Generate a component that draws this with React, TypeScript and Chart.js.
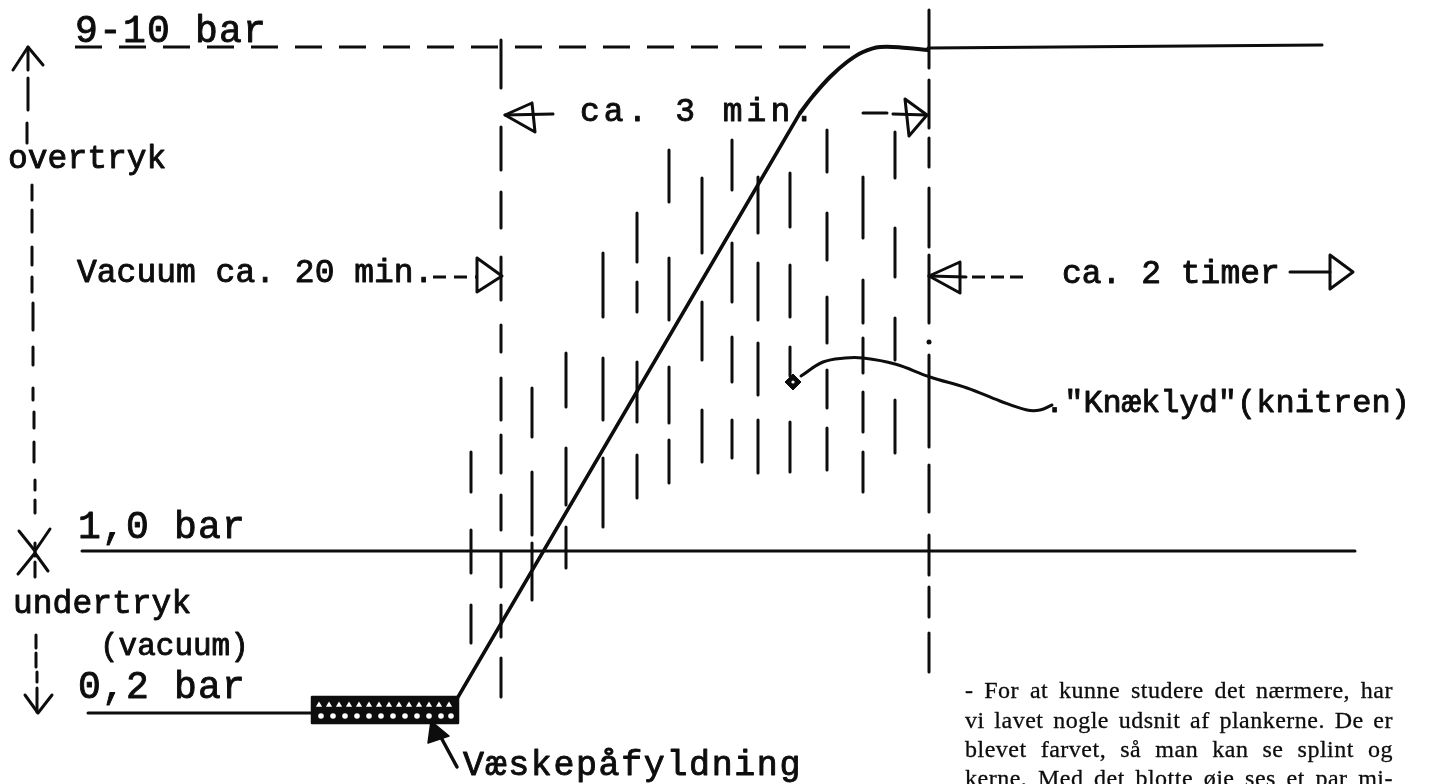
import { useEffect, useRef } from "react";
import { Chart, registerables } from "chart.js";

Chart.register(...registerables);

type P = [number, number];
type VDash = [number, number, number]; // x, y-start, y-end

// ---------- values (sheet units: x = time axis, y = height on sheet from top) ----------
const LEVEL_NAMES = ["9-10 bar", "1,0 bar", "0,2 bar"];
const HIGH_DASHED: P[] = [[75, 47], [860, 47]];
const ATM_LINE: P[] = [[82, 551], [1355, 551]];
const VACUUM_LINE: P[] = [[88, 713], [312, 713]];
const FILL_BOX: P[] = [[312, 697], [458, 697], [458, 723], [312, 723], [312, 697]];
const FILL_HOLES_TOP_X = [319, 329, 339, 349, 359, 369, 379, 389, 399, 409, 419, 429, 439, 449];
const FILL_HOLES_BOTTOM_X = [321, 333, 345, 357, 369, 381, 393, 405, 417, 429, 441, 451];
const RISE_LINE: P[] = [[458, 697], [800, 113]];
const TOP_CURVE: P[] = [[800, 113], [813, 96], [830, 77], [847, 62], [863, 52], [880, 47], [907, 48], [928, 50]];
const HOLD_LINE: P[] = [[928, 48], [1322, 45]];

const VAC_END_X = 501;
const VAC_END_DASHES: P[] = [[40, 88], [127, 170], [192, 228], [257, 300], [325, 352], [378, 420], [435, 473], [495, 530], [552, 587], [605, 637], [658, 697]];
const FILL_END_X = 929;
const FILL_END_DASHES: P[] = [[10, 68], [80, 128], [138, 167], [188, 247], [255, 323], [355, 447], [465, 512], [535, 575], [587, 617], [633, 672]];
const FILL_END_DOT: P = [929, 342];

const CRACKLE_COLUMNS: [number, P[]][] = [
  [471, [[452, 492], [530, 573], [605, 643]]],
  [532, [[388, 437], [472, 535], [543, 600]]],
  [566, [[353, 407], [448, 505], [527, 568]]],
  [603, [[253, 317], [358, 420], [458, 527]]],
  [637, [[213, 262], [282, 312], [362, 422], [455, 498]]],
  [669, [[150, 202], [258, 320], [367, 423], [440, 483]]],
  [702, [[178, 253], [302, 360], [410, 462]]],
  [732, [[140, 190], [243, 302], [337, 382], [420, 458]]],
  [758, [[177, 233], [263, 320], [343, 395], [420, 473]]],
  [790, [[173, 227], [265, 317], [347, 376], [422, 472]]],
  [827, [[130, 172], [213, 260], [297, 343], [370, 408], [428, 470]]],
  [863, [[177, 238], [280, 323], [338, 373], [392, 432], [452, 492]]],
  [895, [[132, 178], [228, 277], [318, 360], [400, 453]]],
];

const AXIS_DASHES: VDash[] = [
  [28, 47, 70], [28, 78, 110], [27, 123, 143],
  [32, 185, 200], [32, 210, 232], [32, 247, 265], [32, 277, 292], [33, 303, 330], [33, 347, 365],
  [33, 388, 400], [34, 412, 428], [34, 442, 462], [35, 480, 490], [35, 500, 513],
  [35, 543, 556], [35, 562, 577],
  [36, 635, 648], [36, 653, 667], [37, 672, 682], [37, 688, 712],
];
const UP_HEAD: P[] = [[13, 70], [28, 47], [43, 65]];
const DOWN_HEAD: P[] = [[25, 695], [38, 713], [52, 695]];
const X_UPPER: P[] = [[19, 531], [35, 551], [50, 529]];
const X_LOWER: P[] = [[18, 574], [35, 553], [48, 571]];

const VAC_ARROW_DASH: P[] = [[433, 277], [478, 277]];
const VAC_ARROW_HEAD: P[] = [[477, 258], [502, 276], [477, 292], [477, 258]];
const MIN3_LEFT_HEAD: P[] = [[532, 103], [505, 115], [535, 132], [532, 103]];
const MIN3_LEFT_STEM: P[] = [[505, 115], [553, 114]];
const MIN3_RIGHT_DASH: P[] = [[863, 113], [887, 113]];
const MIN3_RIGHT_HEAD: P[] = [[905, 99], [927, 115], [909, 136], [905, 99]];
const MIN3_RIGHT_STEM: P[] = [[893, 114], [927, 115]];
const HOURS_LEFT_HEAD: P[] = [[960, 262], [929, 276], [960, 293], [960, 262]];
const HOURS_LEFT_STEM: P[] = [[929, 276], [966, 277]];
const HOURS_LEFT_DASH: P[] = [[972, 277], [1028, 277]];
const HOURS_RIGHT_STEM: P[] = [[1290, 272], [1330, 272]];
const HOURS_RIGHT_HEAD: P[] = [[1330, 255], [1353, 272], [1330, 289], [1330, 255]];

const CRACKLE_LEADER: P[] = [[801, 376], [823, 362], [845, 358], [863, 358], [895, 364], [930, 377], [967, 388], [1000, 401], [1027, 410], [1040, 410], [1052, 405]];
const CRACKLE_MARK: P = [793, 382];
const FILL_LEADER: P[] = [[457, 767], [437, 730]];
const FILL_LEADER_HEAD: P[] = [[431, 721], [428, 743], [449, 736], [431, 721]];

const TEXTS = [
  LEVEL_NAMES[0], "overtryk", "Vacuum ca. 20 min.", "ca. 3 min.", "ca. 2 timer",
  '."Knæklyd"(knitren)', LEVEL_NAMES[1], "undertryk", "(vacuum)", LEVEL_NAMES[2], "Væskepåfyldning",
];
const PARAGRAPH_LINES = [
  "- For at kunne studere det nærmere, har",
  "vi lavet nogle udsnit af plankerne. De er",
  "blevet farvet, så man kan se splint og",
  "kerne. Med det blotte øje ses et par mi-",
];

// ---------- layout / style ----------
const INK = "#0d0d0d";
const MONO = '"Liberation Mono", "DejaVu Sans Mono", monospace';
const SERIF = '"Liberation Serif", "DejaVu Serif", serif';
const TEXT_LAYOUT = [
  { x: 75, y: 42, size: 38, spacing: 1.2 },
  { x: 8, y: 168, size: 33, spacing: 0 },
  { x: 77, y: 282, size: 33, spacing: 0 },
  { x: 580, y: 121, size: 33, spacing: 4 },
  { x: 1062, y: 283, size: 33, spacing: 0 },
  { x: 1045, y: 412, size: 32, spacing: 0 },
  { x: 78, y: 538, size: 38, spacing: 1.2 },
  { x: 13, y: 613, size: 33, spacing: 0 },
  { x: 100, y: 655, size: 31, spacing: 0 },
  { x: 78, y: 698, size: 38, spacing: 1.2 },
  { x: 463, y: 775, size: 35, spacing: 1.6 },
];
const PARA_LAYOUT = { left: 965, right: 1393, baselines: [698, 728, 757, 786], size: 24, spacing: 0.5 };

const pts = (a: P[]) => a.map(([x, y]) => ({ x, y }));
const vdashes = (items: VDash[]) => {
  const out: { x: number; y: number | null }[] = [];
  items.forEach(([x, a, b]) => { out.push({ x, y: a }, { x, y: b }, { x, y: null }); });
  return out;
};
const column = (x: number, ranges: P[]) => ranges.map(([a, b]) => [x, a, b] as VDash);

const line = (data: any[], extra: any = {}) => ({
  data,
  borderColor: INK,
  backgroundColor: INK,
  borderWidth: 3,
  pointRadius: 0,
  fill: false,
  tension: 0,
  borderCapStyle: "round",
  borderJoinStyle: "round",
  spanGaps: false,
  ...extra,
});

const textPlugin = {
  id: "diagramText",
  afterDatasetsDraw(chart: any) {
    const { ctx } = chart;
    const xs = chart.scales.x;
    const ys = chart.scales.y;
    ctx.save();
    ctx.fillStyle = INK;
    ctx.strokeStyle = INK;
    ctx.lineWidth = 0.9;
    ctx.lineJoin = "round";
    ctx.textBaseline = "alphabetic";
    ctx.textAlign = "left";
    TEXTS.forEach((t, i) => {
      const l = TEXT_LAYOUT[i];
      ctx.font = `${l.size}px ${MONO}`;
      ctx.letterSpacing = `${l.spacing}px`;
      const px = xs.getPixelForValue(l.x);
      const py = ys.getPixelForValue(l.y);
      ctx.fillText(t, px, py);
      ctx.strokeText(t, px, py);
    });
    ctx.font = `${PARA_LAYOUT.size}px ${SERIF}`;
    ctx.letterSpacing = `${PARA_LAYOUT.spacing}px`;
    ctx.lineWidth = 0.3;
    const left = xs.getPixelForValue(PARA_LAYOUT.left);
    const right = xs.getPixelForValue(PARA_LAYOUT.right);
    PARAGRAPH_LINES.forEach((ln, i) => {
      const words = ln.split(" ");
      const widths = words.map((w) => ctx.measureText(w).width);
      const total = widths.reduce((a, b) => a + b, 0);
      const gap = words.length > 1 ? (right - left - total) / (words.length - 1) : 0;
      let cx = left;
      const by = ys.getPixelForValue(PARA_LAYOUT.baselines[i]);
      words.forEach((w, j) => { ctx.fillText(w, cx, by); ctx.strokeText(w, cx, by); cx += widths[j] + gap; });
    });
    ctx.letterSpacing = "0px";
    ctx.restore();
  },
};

function buildConfig(): any {
  const crackle: VDash[] = [];
  CRACKLE_COLUMNS.forEach(([x, r]) => crackle.push(...column(x, r)));
  const datasets = [
    line(pts(HIGH_DASHED), { borderDash: [27, 17], borderCapStyle: "butt" }),
    line(pts(ATM_LINE)),
    line(pts(VACUUM_LINE)),
    line(pts(FILL_BOX), { fill: "shape", borderWidth: 2.5 }),
    line(FILL_HOLES_TOP_X.map((x) => ({ x, y: 705 })), {
      showLine: false, pointRadius: 3.6, pointStyle: "triangle",
      pointBackgroundColor: "#fff", pointBorderWidth: 0, pointBorderColor: "#fff",
    }),
    line(FILL_HOLES_BOTTOM_X.map((x) => ({ x, y: 716 })), {
      showLine: false, pointRadius: 2.8, pointStyle: "circle",
      pointBackgroundColor: "#fff", pointBorderWidth: 0, pointBorderColor: "#fff",
    }),
    line(pts(RISE_LINE), { borderWidth: 3.5 }),
    line(pts(TOP_CURVE), { borderWidth: 4, tension: 0.4 }),
    line(pts(HOLD_LINE)),
    line(vdashes(column(VAC_END_X, VAC_END_DASHES))),
    line(vdashes(column(FILL_END_X, FILL_END_DASHES))),
    line([{ x: FILL_END_DOT[0], y: FILL_END_DOT[1] }], { showLine: false, pointRadius: 2.5, pointBackgroundColor: INK, pointBorderWidth: 0 }),
    line(vdashes(crackle)),
    line(vdashes(AXIS_DASHES)),
    line(pts(UP_HEAD)),
    line(pts(DOWN_HEAD)),
    line(pts(X_UPPER)),
    line(pts(X_LOWER)),
    line(pts(VAC_ARROW_DASH), { borderDash: [13, 8], borderCapStyle: "butt" }),
    line(pts(VAC_ARROW_HEAD)),
    line(pts(MIN3_LEFT_HEAD)),
    line(pts(MIN3_LEFT_STEM)),
    line(pts(MIN3_RIGHT_DASH)),
    line(pts(MIN3_RIGHT_HEAD)),
    line(pts(MIN3_RIGHT_STEM)),
    line(pts(HOURS_LEFT_HEAD)),
    line(pts(HOURS_LEFT_STEM)),
    line(pts(HOURS_LEFT_DASH), { borderDash: [13, 6], borderCapStyle: "butt" }),
    line(pts(HOURS_RIGHT_STEM)),
    line(pts(HOURS_RIGHT_HEAD)),
    line(pts(CRACKLE_LEADER), { tension: 0.4 }),
    line([{ x: CRACKLE_MARK[0], y: CRACKLE_MARK[1] }], {
      showLine: false, pointRadius: 8, pointStyle: "rectRot",
      pointBackgroundColor: INK, pointBorderColor: INK, pointBorderWidth: 1,
    }),
    line([{ x: CRACKLE_MARK[0], y: CRACKLE_MARK[1] }], {
      showLine: false, pointRadius: 1.6, pointStyle: "circle",
      pointBackgroundColor: "#fff", pointBorderWidth: 0,
    }),
    line(pts(FILL_LEADER), { borderWidth: 3.5 }),
    line(pts(FILL_LEADER_HEAD), { fill: "shape", borderWidth: 1.5 }),
  ].map((d, i) => ({ ...d, order: -i }));
  return {
    type: "line",
    data: { datasets },
    options: {
      animation: false,
      responsive: false,
      events: [],
      layout: { padding: 0, autoPadding: false },
      elements: { point: { radius: 0 } },
      scales: {
        x: { type: "linear", min: 0, max: 1436, display: false, grid: { display: false } },
        y: { type: "linear", min: 0, max: 784, reverse: true, display: false, grid: { display: false } },
      },
      plugins: { legend: { display: false }, tooltip: { enabled: false }, title: { display: false } },
    },
    plugins: [textPlugin],
  };
}

export default function App() {
  const ref = useRef<HTMLCanvasElement>(null);
  useEffect(() => {
    document.body.style.margin = "0";
    document.body.style.overflow = "hidden";
    document.body.style.background = "#fff";
    let chart: Chart | null = null;
    let cancelled = false;
    const make = () => {
      if (cancelled || !ref.current) return;
      chart = new Chart(ref.current, buildConfig());
    };
    const fonts: any = (document as any).fonts;
    if (fonts && fonts.load) {
      Promise.all([fonts.load(`33px ${MONO}`), fonts.load(`24px ${SERIF}`)]).then(make, make);
    } else {
      make();
    }
    return () => {
      cancelled = true;
      if (chart) chart.destroy();
    };
  }, []);
  return (
    <div style={{ width: 1436, height: 784, position: "relative", background: "#fff" }}>
      <canvas ref={ref} width={1436} height={784} style={{ display: "block" }} />
    </div>
  );
}
